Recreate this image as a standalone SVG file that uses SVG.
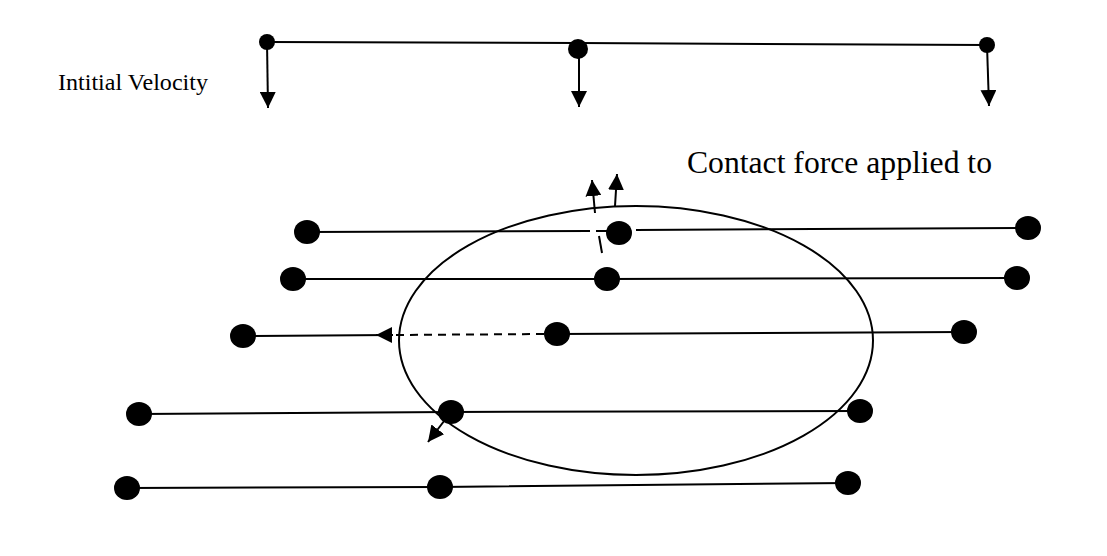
<svg xmlns="http://www.w3.org/2000/svg" width="1107" height="556" viewBox="0 0 1107 556">
<style>
.ln{stroke:#000;stroke-width:2;fill:none}
.dot{fill:#000}
.txt{font-family:"Liberation Serif","Times New Roman",serif;fill:#000}
</style>
<defs>
<marker id="ah" viewBox="0 0 16 16" refX="16" refY="8" markerWidth="16" markerHeight="16" markerUnits="userSpaceOnUse" orient="auto">
<path d="M0,0 L16,8 L0,16 z" fill="#000"/>
</marker>
</defs>
<rect width="1107" height="556" fill="#fff"/>
<g id="connectors">
<path class="ln" d="M267,42 L578,43 L987,45"/>
<path class="ln" d="M267,42 L268,108" marker-end="url(#ah)"/>
<path class="ln" d="M579,49 L579,107" marker-end="url(#ah)"/>
<path class="ln" d="M987,45 L989,106" marker-end="url(#ah)"/>
<path class="ln" d="M307,232 L590,231"/>
<path class="ln" d="M596,231 L608,231"/>
<path class="ln" d="M636,230 L1028,228"/>
<path class="ln" d="M599,236 L602,253"/>
<path class="ln" d="M595,213 L592,180" marker-end="url(#ah)"/>
<path class="ln" d="M615,206 L617,174" marker-end="url(#ah)"/>
<path class="ln" d="M293,279 L607,279 L1017,278"/>
<path class="ln" d="M243,336 L392,335"/>
<path class="ln" d="M393,335 L376,335" marker-end="url(#ah)"/>
<path class="ln" d="M396,335 L545,334" stroke-dasharray="8,6"/>
<path class="ln" d="M557,334 L964,332"/>
<path class="ln" d="M139,414 L451,412 L860,411"/>
<path class="ln" d="M451,412 L428,442" marker-end="url(#ah)"/>
<path class="ln" d="M127,488 L440,487 L848,483"/>
<ellipse class="ln" cx="636" cy="340.5" rx="237" ry="134.5"/>
</g>
<g id="top-nodes">
<circle id="t1" class="dot" cx="267" cy="42" r="8"/>
<circle id="t2" class="dot" cx="578" cy="49" r="10"/>
<circle id="t3" class="dot" cx="987" cy="45" r="8"/>
</g>
<g id="row1">
<ellipse class="dot" cx="307" cy="232" rx="13" ry="12"/>
<ellipse class="dot" cx="619" cy="233" rx="13" ry="12"/>
<ellipse class="dot" cx="1028" cy="228" rx="13" ry="12"/>
</g>
<g id="row2">
<ellipse class="dot" cx="293" cy="279" rx="13" ry="12"/>
<ellipse class="dot" cx="607" cy="279" rx="13" ry="12"/>
<ellipse class="dot" cx="1017" cy="278" rx="13" ry="12"/>
</g>
<g id="row3">
<ellipse class="dot" cx="243" cy="336" rx="13" ry="12"/>
<ellipse class="dot" cx="557" cy="334" rx="13" ry="12"/>
<ellipse class="dot" cx="964" cy="332" rx="13" ry="12"/>
</g>
<g id="row4">
<ellipse class="dot" cx="139" cy="414" rx="13" ry="12"/>
<ellipse class="dot" cx="451" cy="412" rx="13" ry="12"/>
<ellipse class="dot" cx="860" cy="411" rx="13" ry="12"/>
</g>
<g id="row5">
<ellipse class="dot" cx="127" cy="488" rx="13" ry="12"/>
<ellipse class="dot" cx="440" cy="487" rx="13" ry="12"/>
<ellipse class="dot" cx="848" cy="483" rx="13" ry="12"/>
</g>
<g id="labels">
<text class="txt" x="58" y="90" font-size="22.5" textLength="150" lengthAdjust="spacingAndGlyphs">Intitial Velocity</text>
<text class="txt" x="687" y="173" font-size="31" textLength="305" lengthAdjust="spacingAndGlyphs">Contact force applied to</text>
</g>
</svg>
